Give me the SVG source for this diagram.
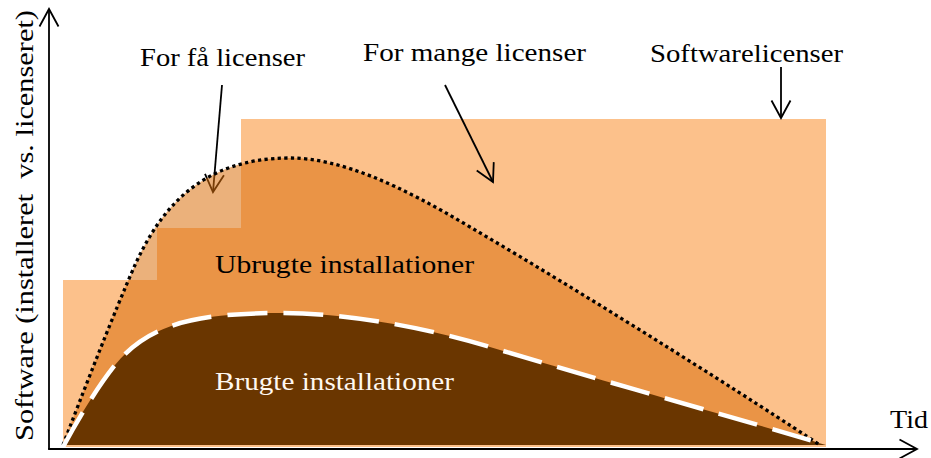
<svg xmlns="http://www.w3.org/2000/svg" width="931" height="458" viewBox="0 0 931 458">
  <defs>
    <style>
      .lbl { font-family: "Liberation Serif", "DejaVu Serif", serif; font-size: 26px; fill: #000; }
      .lbl-light { fill: #FFF8F0; }
      .arrow { stroke: #000; stroke-width: 1.8; fill: none; marker-end: url(#chev); }
      .axis { stroke: #000; stroke-width: 1.8; fill: none; marker-end: url(#chev); }
    </style>
    <marker id="chev" viewBox="-20 -12 24 24" refX="0" refY="0" markerWidth="24" markerHeight="24" markerUnits="userSpaceOnUse" orient="auto" overflow="visible">
      <path d="M-17.5,-9.5 L0,0 L-17.5,9.5" fill="none" stroke="#000" stroke-width="1.8" stroke-linejoin="miter"/>
    </marker>
  </defs>

  <rect width="931" height="458" fill="#FFFFFF"/>

  <!-- software licences staircase -->
  <path id="licenses-area" d="M63,447 L63,280 L157,280 L157,228 L241,228 L241,119 L826,119 L826,447 Z" fill="#FCC18B"/>

  <!-- connectors -->
  <g id="connectors">
    <line class="arrow" x1="222" y1="85" x2="213" y2="192"/>
    <line class="arrow" x1="445" y1="85" x2="493" y2="182"/>
    <line class="arrow" x1="781" y1="67" x2="781" y2="118"/>
  </g>

  <!-- installed software (semi-transparent over licences) -->
  <path id="installed-area" d="M63,445 C80,400 115,310 135,265 C160,210 200,158 290,158 C340,158 400,185 470,227 C600,303 760,405 820,445 Z" fill="#DA6F0B" fill-opacity="0.54"/>

  <!-- used installations -->
  <path id="used-area" d="M63,445 C75,425 95,390 115,365 C150,322 200,313 283,313 C340,313 420,325 500,350 C600,380 760,425 826,445 Z" fill="#6A3600"/>

  <!-- curve outlines -->
  <path id="installed-curve" d="M63,445 C80,400 115,310 135,265 C160,210 200,158 290,158 C340,158 400,185 470,227 C600,303 760,405 820,445" fill="none" stroke="#000" stroke-width="3.3" stroke-dasharray="3.3 3.3"/>
  <path id="used-curve" d="M63,447 C75,425 95,390 115,365 C150,322 200,313 283,313 C340,313 420,325 500,350 C600,380 760,425 826,445" fill="none" stroke="#FFFFFF" stroke-width="4.5" stroke-dasharray="40 16"/>

  <!-- axes -->
  <g id="axes">
    <line class="axis" x1="49" y1="449" x2="49" y2="9"/>
    <line class="axis" x1="48.1" y1="449" x2="917" y2="449"/>
  </g>

  <!-- labels -->
  <g id="label-too-few">
    <text class="lbl" x="140" y="66" textLength="165" lengthAdjust="spacingAndGlyphs">For få licenser</text>
  </g>
  <g id="label-too-many">
    <text class="lbl" x="363" y="60.5" textLength="223" lengthAdjust="spacingAndGlyphs">For mange licenser</text>
  </g>
  <g id="label-licenses">
    <text class="lbl" x="650" y="61.5" textLength="193" lengthAdjust="spacingAndGlyphs">Softwarelicenser</text>
  </g>
  <g id="label-unused">
    <text class="lbl" x="215" y="272.5" textLength="259" lengthAdjust="spacingAndGlyphs">Ubrugte installationer</text>
  </g>
  <g id="label-used">
    <text class="lbl lbl-light" x="215" y="389.5" textLength="239" lengthAdjust="spacingAndGlyphs">Brugte installationer</text>
  </g>
  <g id="label-time">
    <text class="lbl" x="890" y="427.5" textLength="38" lengthAdjust="spacingAndGlyphs">Tid</text>
  </g>
  <g id="label-yaxis">
    <text class="lbl" transform="translate(33,441) rotate(-90)" x="0" y="0" textLength="431" lengthAdjust="spacingAndGlyphs" xml:space="preserve">Software (installeret  vs. licenseret)</text>
  </g>
</svg>
